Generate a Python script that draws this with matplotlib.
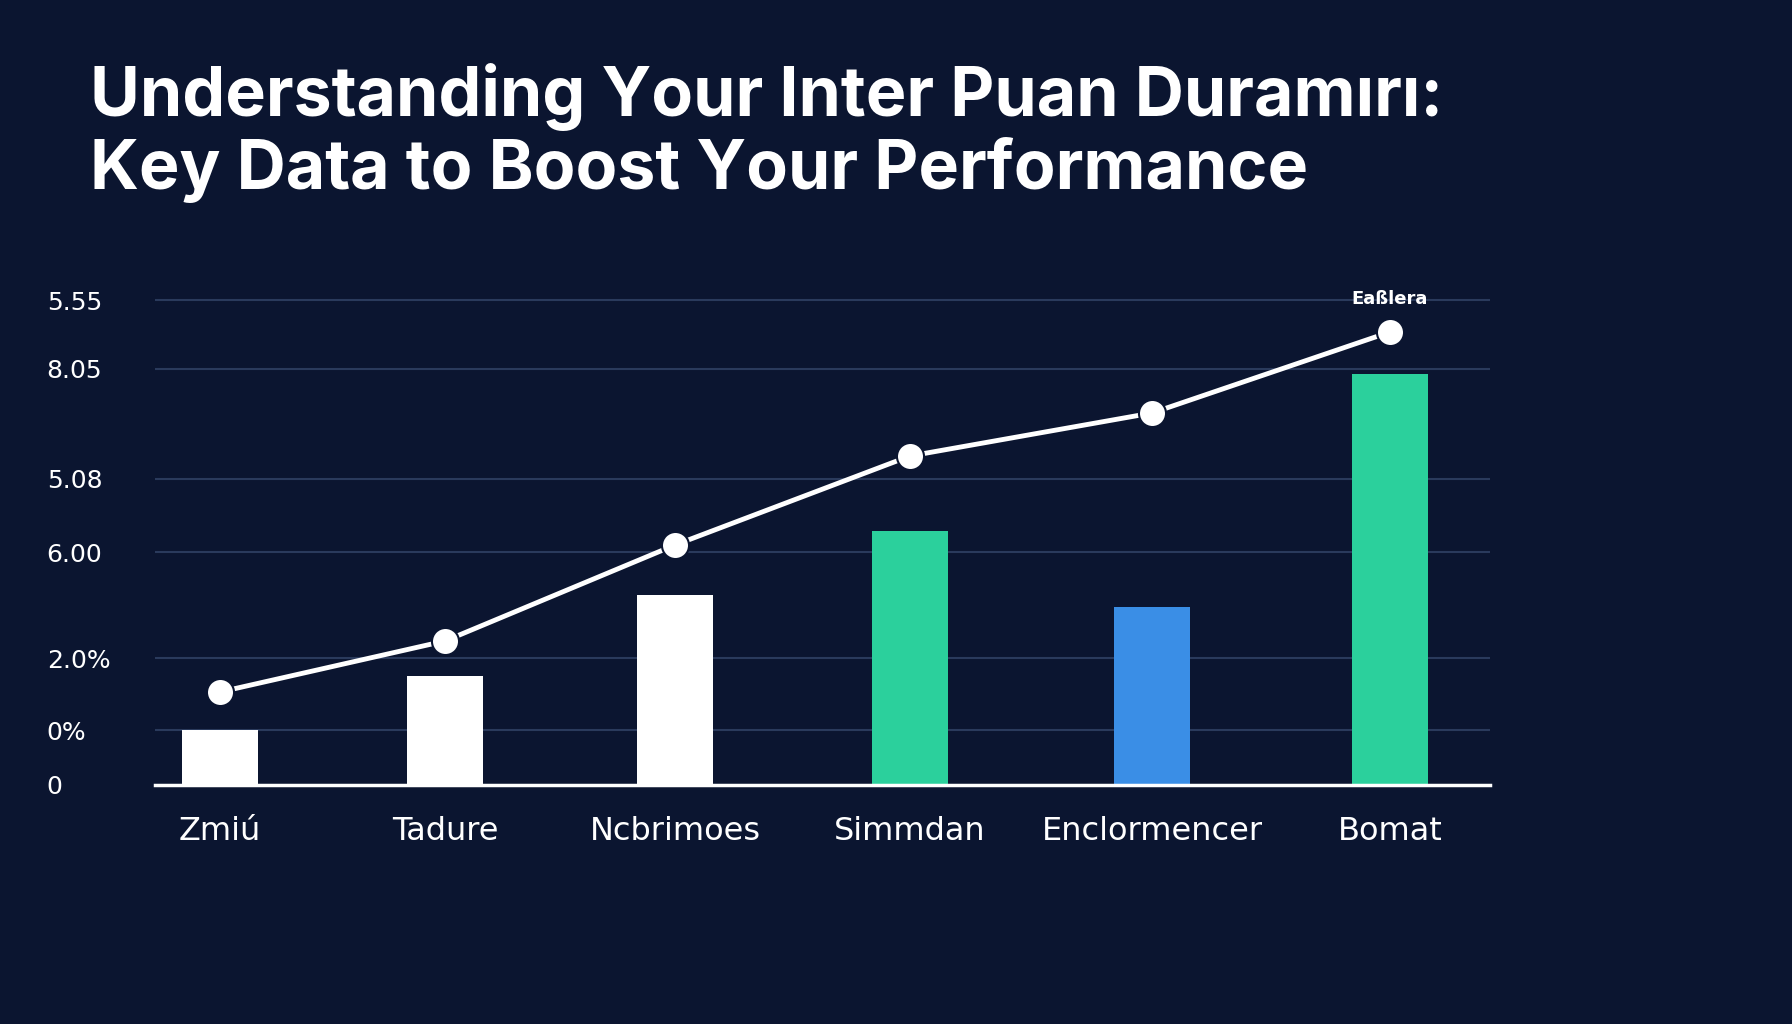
import matplotlib
matplotlib.use("Agg")
import matplotlib.pyplot as plt

categories = ["Zmiú", "Tadure", "Ncbrimoes", "Simmdan", "Enclormencer", "Bomat"]
bar_values = [55, 109, 190, 254, 178, 411]
line_values = [93, 144, 240, 329, 372, 453]
bar_colors = ["#ffffff", "#ffffff", "#ffffff", "#2bd09c", "#3a8ee6", "#2bd09c"]
tick_values = [0, 55, 127, 233, 306, 416, 485]
tick_labels = ["0", "0%", "2.0%", "6.00", "5.08", "8.05", "5.55"]
x_pos = [220, 445, 675, 910, 1152, 1390]
point_label = "Eaßlera"

bg = "#0b1530"
fig = plt.figure(figsize=(17.92, 10.24), dpi=100, facecolor=bg)
fig.text(90/1792, 1-97/1024, "Understanding Your Inter Puan Duramırı:", color="white",
         fontsize=49, fontweight="bold", family="Inter", va="center")
fig.text(90/1792, 1-170/1024, "Key Data to Boost Your Performance", color="white",
         fontsize=49, fontweight="bold", family="Inter", va="center")

ax = fig.add_axes([155/1792, 1-785/1024, (1490-155)/1792, 495/1024])
ax.set_facecolor(bg)
ax.set_xlim(155, 1490)
ax.set_ylim(0, 495)
for t in tick_values[1:]:
    ax.axhline(t, color="#2a3a5c", lw=1.5, zorder=0)
ax.bar(x_pos, bar_values, width=76, color=bar_colors, zorder=2)
ax.plot(x_pos, line_values, color="white", lw=3.5, zorder=3)
ax.scatter(x_pos, line_values, s=380, color="white", edgecolor=bg, linewidth=1.5, zorder=4)
ax.annotate(point_label, (x_pos[-1], line_values[-1]), xytext=(0, 20), textcoords="offset points",
            color="white", fontsize=13, fontweight="bold", ha="center")
for s in ["top", "right", "left"]:
    ax.spines[s].set_visible(False)
ax.spines["bottom"].set_color("white")
ax.spines["bottom"].set_linewidth(2.5)
ax.set_yticks(tick_values)
ax.set_yticklabels(tick_labels, color="white", fontsize=18)
for lab in ax.get_yticklabels():
    lab.set_horizontalalignment("left")
ax.tick_params(axis="y", length=0, pad=78)
ax.set_xticks(x_pos)
ax.set_xticklabels(categories, color="white", fontsize=23)
ax.tick_params(axis="x", length=0, pad=22)
fig.savefig("out.png", facecolor=bg)
